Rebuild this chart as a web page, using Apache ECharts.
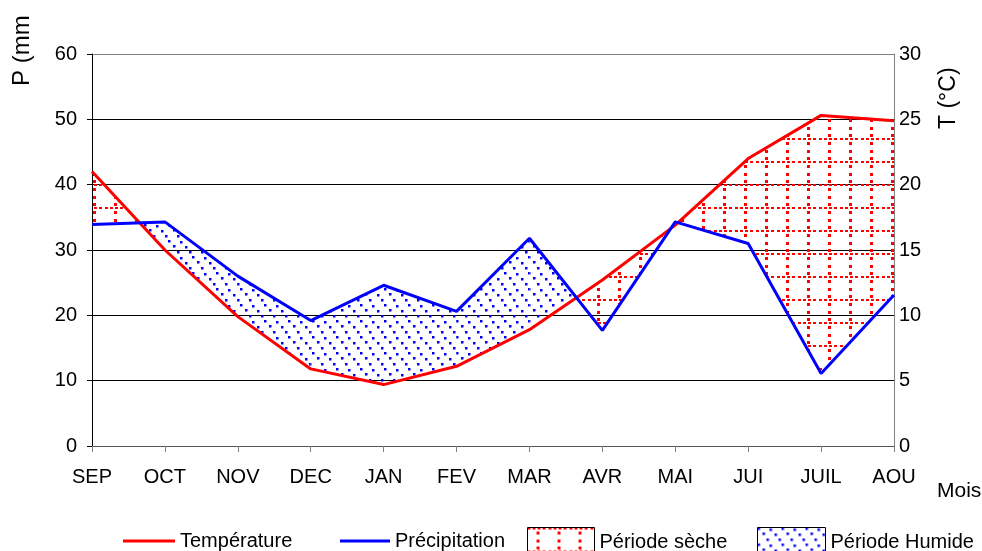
<!DOCTYPE html>
<html>
<head>
<meta charset="utf-8">
<script src="https://cdn.jsdelivr.net/npm/echarts@6/dist/echarts.min.js"></script>
<style>
html,body{margin:0;padding:0;background:#fff;}
#chart{width:982px;height:551px;}
</style>
</head>
<body>
<div id="chart"></div>
<script>
// ---- data ----
var months = ['SEP','OCT','NOV','DEC','JAN','FEV','MAR','AVR','MAI','JUI','JUIL','AOU'];
var temperature = [21.0, 15.0, 9.9, 5.9, 4.7, 6.1, 8.9, 12.7, 16.9, 22.0, 25.3, 24.9];
var precipitation = [33.9, 34.3, 26.0, 19.2, 24.6, 20.6, 31.8, 17.7, 34.3, 31.0, 11.1, 23.1];
var pTicks = [0, 60, 10];
var tTicks = [0, 30, 5];

// ---- patterns ----
function makeDry() {
  var c = document.createElement('canvas'); c.width = 21; c.height = 23;
  var g = c.getContext('2d'); g.fillStyle = '#ff0000';
  for (var k = 0; k < 4; k++) g.fillRect(k * 5, 0, 3, 2);
  for (var j = 0; j < 3; j++) g.fillRect(9, Math.round(4 + j * 23 / 3), 3, 3);
  return c;
}
function makeWet() {
  var c = document.createElement('canvas'); c.width = 24; c.height = 16;
  var g = c.getContext('2d'); g.fillStyle = '#0000ff';
  var pts = [[0,0],[12,1],[5,5],[17,6],[9,11],[21,11]];
  pts.forEach(function(p){ g.fillRect(p[0], p[1], 2.5, 2.5); });
  return c;
}
var dryPattern = {image: makeDry(), repeat: 'repeat'};
var wetPattern = {image: makeWet(), repeat: 'repeat'};

// ---- fill segments derived from data (P vs 2T, split at crossings) ----
var fx = [], fP = [], fT = [];
for (var i = 0; i < months.length; i++) {
  var t2 = temperature[i] * 2;
  fx.push(i); fP.push(precipitation[i]); fT.push(t2);
  if (i < months.length - 1) {
    var d0 = precipitation[i] - t2, d1 = precipitation[i+1] - temperature[i+1] * 2;
    if (d0 * d1 < 0) {
      var f = d0 / (d0 - d1);
      var yv = precipitation[i] + f * (precipitation[i+1] - precipitation[i]);
      fx.push(i + f); fP.push(yv); fT.push(yv);
    }
  }
}
var drySegs = [], wetSegs = [];
for (var k = 0; k < fx.length - 1; k++) {
  var seg = [fx[k], fx[k+1], fP[k], fP[k+1], fT[k], fT[k+1]];
  if (fT[k] + fT[k+1] > fP[k] + fP[k+1]) drySegs.push(seg); else wetSegs.push(seg);
}
function segRenderer(pattern) {
  return function(params, api) {
    var x0 = api.value(0), x1 = api.value(1);
    var pts = [api.coord([x0, api.value(4)]), api.coord([x1, api.value(5)]),
               api.coord([x1, api.value(3)]), api.coord([x0, api.value(2)])];
    return {type: 'polygon', shape: {points: pts}, style: {fill: pattern, stroke: null}};
  };
}

var FONT = 'Liberation Sans, Arial, sans-serif';
var chart = echarts.init(document.getElementById('chart'), null, {renderer: 'canvas'});
chart.setOption({
  animation: false,
  backgroundColor: '#fff',
  grid: {left: 92, right: 88, top: 54, bottom: 105, containLabel: false},
  xAxis: {
    type: 'value', min: 0, max: months.length - 1, interval: 1,
    axisLine: {show: true, onZero: false, lineStyle: {color: '#555', width: 1}},
    axisTick: {show: true, length: 6, lineStyle: {color: '#808080'}},
    axisLabel: {color: '#000', fontSize: 20, fontFamily: FONT, margin: 21,
      formatter: function(v){ return months[v] || ''; }},
    splitLine: {show: false}
  },
  yAxis: [{
    type: 'value', min: pTicks[0], max: pTicks[1], interval: pTicks[2],
    axisLine: {show: true, lineStyle: {color: '#000', width: 1}},
    axisTick: {show: true, length: 5, lineStyle: {color: '#000'}},
    axisLabel: {color: '#000', fontSize: 20, fontFamily: FONT, margin: 15},
    splitLine: {show: true, lineStyle: {color: ['#000','#000','#000','#000','#000','#000','#808080'], width: 1}}
  }, {
    type: 'value', min: tTicks[0], max: tTicks[1], interval: tTicks[2], position: 'right',
    axisLine: {show: true, lineStyle: {color: '#808080', width: 1}},
    axisTick: {show: false},
    axisLabel: {color: '#000', fontSize: 20, fontFamily: FONT, margin: 5},
    splitLine: {show: false}
  }],
  legend: [
    {data: [{name: 'Température', icon: 'rect'}], left: 123, top: 531, padding: 0,
     itemWidth: 52, itemHeight: 3, textStyle: {fontSize: 20, fontFamily: FONT, color: '#000'}},
    {data: [{name: 'Précipitation', icon: 'rect'}], left: 340, top: 531, padding: 0,
     itemWidth: 50, itemHeight: 3, textStyle: {fontSize: 20, fontFamily: FONT, color: '#000'}},
    {data: [{name: 'Période sèche', icon: 'rect', itemStyle: {color: dryPattern, borderColor: '#000', borderWidth: 1}}],
     left: 527, top: 527, padding: 0, itemWidth: 67, itemHeight: 30,
     textStyle: {fontSize: 20, fontFamily: FONT, color: '#000'}},
    {data: [{name: 'Période Humide', icon: 'rect', itemStyle: {color: wetPattern, borderColor: '#000', borderWidth: 1}}],
     left: 757, top: 527, padding: 0, itemWidth: 68, itemHeight: 30,
     textStyle: {fontSize: 20, fontFamily: FONT, color: '#000'}}
  ],
  series: [
    {name: 'Période sèche', type: 'custom', data: drySegs, yAxisIndex: 0,
     renderItem: segRenderer(dryPattern), itemStyle: {color: '#ff0000'},
     encode: {x: [0, 1], y: [2, 3, 4, 5]}, silent: true, z: 1},
    {name: 'Période Humide', type: 'custom', data: wetSegs, yAxisIndex: 0,
     renderItem: segRenderer(wetPattern), itemStyle: {color: '#0000ff'},
     encode: {x: [0, 1], y: [2, 3, 4, 5]}, silent: true, z: 1},
    {name: 'Température', type: 'line', yAxisIndex: 1, color: '#ff0000',
     data: temperature.map(function(v, i){ return [i, v]; }),
     symbol: 'none', lineStyle: {color: '#ff0000', width: 3}, z: 5},
    {name: 'Précipitation', type: 'line', yAxisIndex: 0, color: '#0000ff',
     data: precipitation.map(function(v, i){ return [i, v]; }),
     symbol: 'none', lineStyle: {color: '#0000ff', width: 3}, z: 5}
  ],
  graphic: [
    {type: 'text', x: 22, y: 86, rotation: Math.PI / 2,
     style: {text: 'P (mm', fontSize: 24, fontFamily: FONT, fill: '#000', textAlign: 'left', textVerticalAlign: 'middle'}},
    {type: 'text', x: 949, y: 129, rotation: Math.PI / 2,
     style: {text: 'T (°C)', fontSize: 23, fontFamily: FONT, fill: '#000', textAlign: 'left', textVerticalAlign: 'middle'}},
    {type: 'text', x: 937, y: 491,
     style: {text: 'Mois', fontSize: 21, fontFamily: FONT, fill: '#000', textAlign: 'left', textVerticalAlign: 'middle'}}
  ]
});
</script>
</body>
</html>
